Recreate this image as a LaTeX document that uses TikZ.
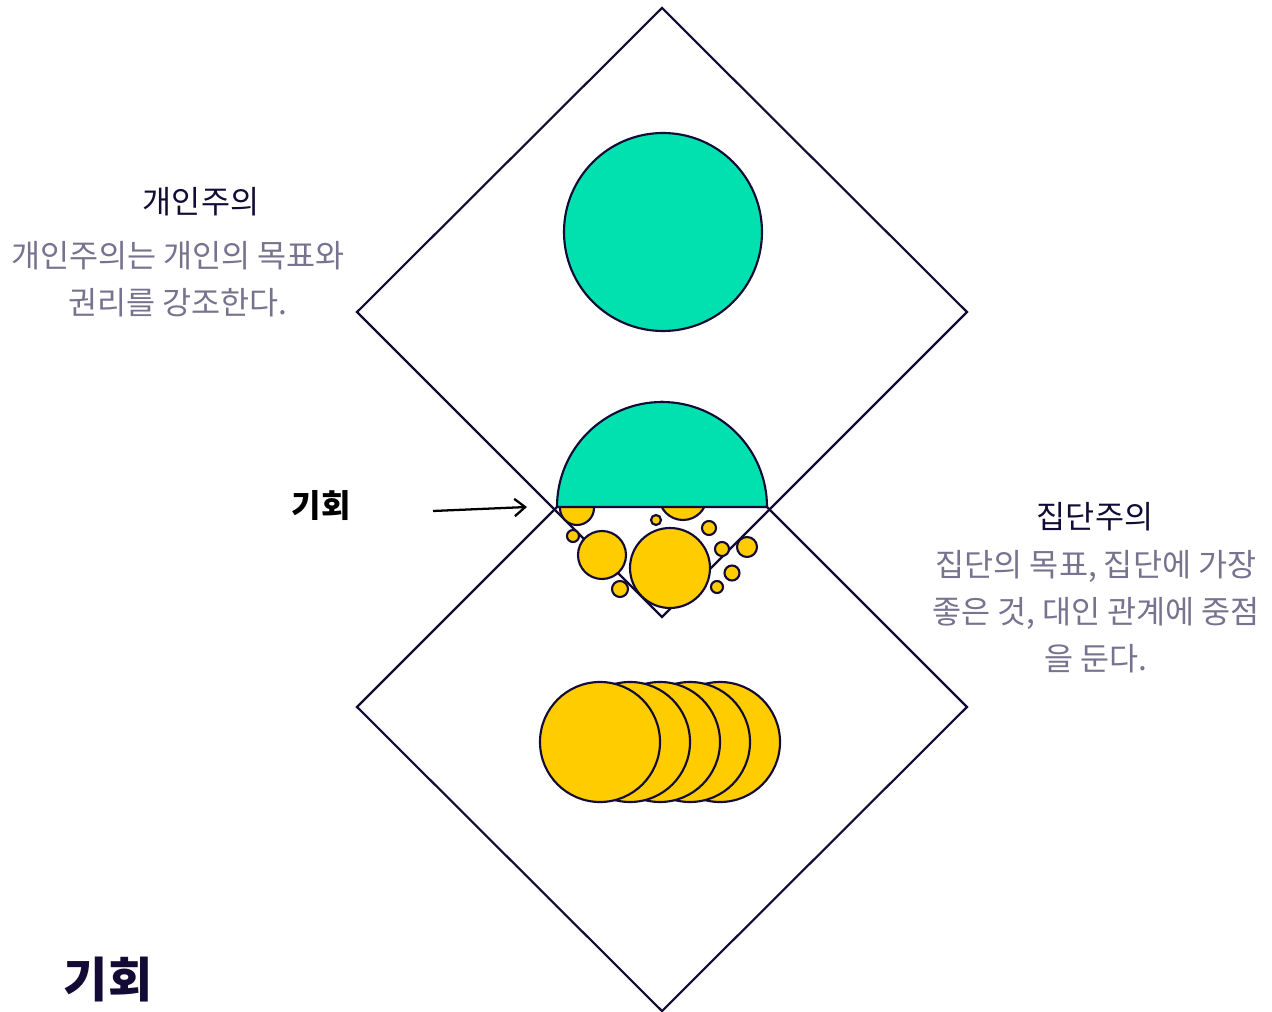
\documentclass[tikz,border=0pt]{standalone}
\usepackage{fontspec}
\setmainfont{Noto Sans CJK KR}
\usetikzlibrary{arrows.meta}
\definecolor{navy}{HTML}{130B36}
\definecolor{greytext}{HTML}{77738F}
\definecolor{mint}{HTML}{00E1AF}
\definecolor{gold}{HTML}{FFCC00}
\tikzset{
  outline/.style={draw=navy, line width=1.6pt, line join=miter},
  goldball/.style={outline, fill=gold},
  title/.style={text=navy, font=\fontsize{23.7}{28}\selectfont, inner sep=0pt, anchor=center},
  desc/.style={text=greytext, font=\fontsize{23.7}{35.3}\selectfont, align=center, inner sep=0pt, anchor=center},
}
\begin{document}
\begin{tikzpicture}[x=0.75pt,y=-0.75pt]
\useasboundingbox (0,0) rectangle (1272,1012);
% diamonds
\draw[outline] (662,8) -- (967,312) -- (662,617) -- (357,312) -- cycle;
\draw[outline] (662,402) -- (967,707) -- (662,1011) -- (357,707) -- cycle;
% green circle
\draw[outline, fill=mint] (663,232) circle[radius=99];
% small gold circles
\foreach \cx/\cy/\r in {577/508/17, 683/496/24, 656/520/5, 573/536/6, 709/528/7, 602/555/24, 670/568/40, 722/549/7, 747/547/10, 732/573/7.5, 717/587/6, 620/589/8}
  \draw[goldball] (\cx,\cy) circle[radius=\r];
% semicircle
\draw[outline, fill=mint] (557,507) arc[start angle=180, end angle=0, x radius=105, y radius=-105] -- cycle;
% stacked gold circles
\foreach \cx in {720,690,660,630,600}
  \draw[goldball] (\cx,742) circle[radius=60];
% texts
\node[title] (indt) at (201,202) {개인주의};
\node[desc] (indd) at (178,279) {개인주의는 개인의 목표와\\권리를 강조한다.};
\node[title] (colt) at (1095,517) {집단주의};
\node[desc] (cold) at (1096,612) {집단의 목표, 집단에 가장\\좋은 것, 대인 관계에 중점\\을 둔다.};
\node[text=black, font=\fontsize{24}{28}\selectfont\bfseries, inner sep=0pt] (opp) at (321,506) {기회};
\coordinate (arrowstart) at (433,511);
\coordinate (arrowend) at (527,507);
\draw[black, line width=1.7pt, -{Straight Barb[length=8pt, width=13pt, line width=1.7pt]}] (arrowstart) -- (arrowend);
\node[text=navy, font=\fontsize{36}{42}\selectfont\bfseries, inner sep=0pt] (bigtitle) at (108,980) {기회};
\end{tikzpicture}
\end{document}
